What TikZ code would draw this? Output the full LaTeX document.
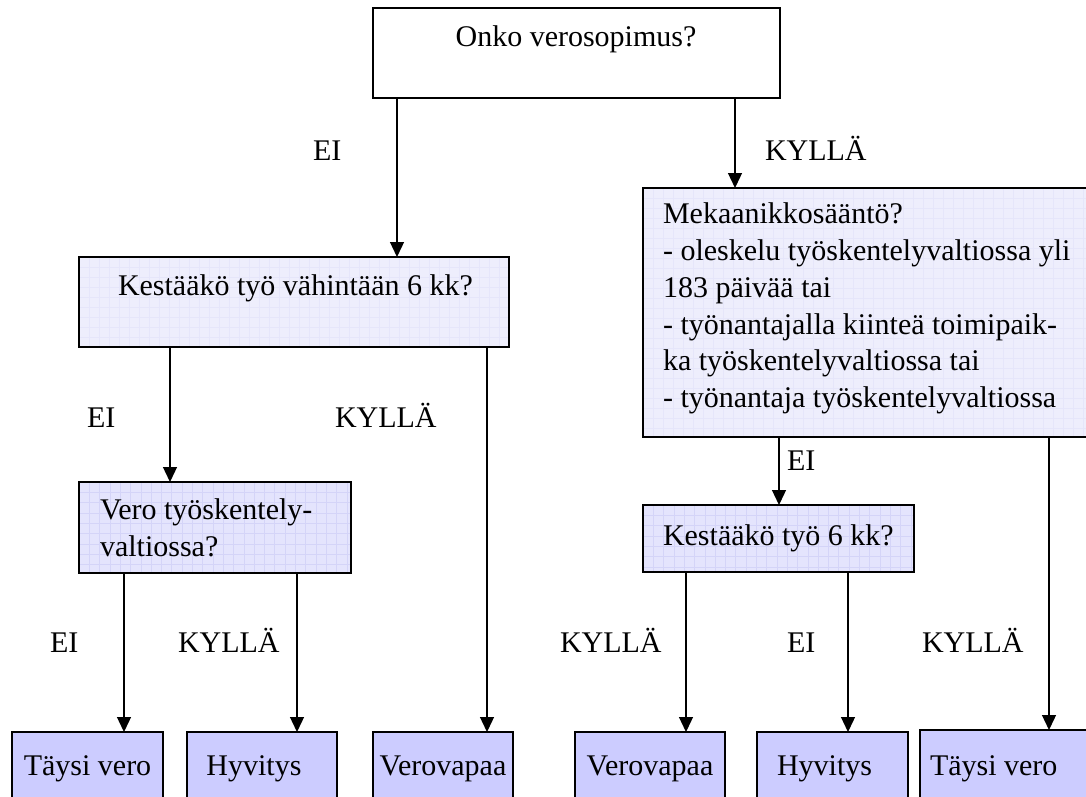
\documentclass[tikz,border=0pt]{standalone}
\usepackage{fontspec}
\setmainfont{Liberation Serif}
\usetikzlibrary{arrows.meta}
\definecolor{boxlight}{RGB}{238,238,252}
\definecolor{boxmid}{RGB}{228,228,253}
\definecolor{boxdark}{RGB}{204,204,255}
\definecolor{gridlight}{RGB}{230,230,250}
\definecolor{gridmid}{RGB}{212,212,248}
\begin{document}
\begin{tikzpicture}[x=1pt,y=-1pt,
  every node/.style={font=\fontsize{30}{36.8}\selectfont, inner sep=0pt, outer sep=0pt},
  box/.style={draw, line width=1.4pt, rectangle, anchor=north west},
  lightbox/.style={box, fill=boxlight},
  midbox/.style={box, fill=boxmid},
  darkbox/.style={box, fill=boxdark},
  txt/.style={anchor=base west},
  lab/.style={anchor=base west},
  arr/.style={line width=1.3pt, -{Triangle[length=15pt,width=14pt]}}]
\useasboundingbox (0,0) rectangle (1086,797);
\fill[white] (0,0) rectangle (1086,797);

% boxes
\node[box, fill=white, minimum width=407pt, minimum height=90pt] (q0) at (373,8) {};
\node[lightbox, minimum width=430pt, minimum height=90pt] (q1) at (79,257) {};
\node[lightbox, minimum width=450pt, minimum height=249pt] (q2) at (643,188) {};
\node[midbox, minimum width=272pt, minimum height=91pt] (q3) at (79,482) {};
\node[midbox, minimum width=271pt, minimum height=67pt] (q4) at (643,505) {};

% grid texture
\begin{scope}
  \clip (q1.south west) rectangle (q1.north east);
  \foreach \x in {79,89,...,509} \draw[gridlight, line width=.4pt] (\x,257) -- (\x,347);
  \foreach \y in {257,267,...,347} \draw[gridlight, line width=.4pt] (79,\y) -- (509,\y);
\end{scope}
\begin{scope}
  \clip (q2.south west) rectangle (q2.north east);
  \foreach \x in {643,653,...,1093} \draw[gridlight, line width=.4pt] (\x,188) -- (\x,437);
  \foreach \y in {188,198,...,437} \draw[gridlight, line width=.4pt] (643,\y) -- (1093,\y);
\end{scope}
\begin{scope}
  \clip (q3.south west) rectangle (q3.north east);
  \foreach \x in {79,89.3,...,351} \draw[gridmid, line width=.5pt] (\x,482) -- (\x,573);
  \foreach \y in {482,492.3,...,573} \draw[gridmid, line width=.5pt] (79,\y) -- (351,\y);
\end{scope}
\begin{scope}
  \clip (q4.south west) rectangle (q4.north east);
  \foreach \x in {643,653.3,...,914} \draw[gridmid, line width=.5pt] (\x,505) -- (\x,572);
  \foreach \y in {505,515.3,...,572} \draw[gridmid, line width=.5pt] (643,\y) -- (914,\y);
\end{scope}
\draw[line width=1.4pt] (q1.south west) rectangle (q1.north east);
\draw[line width=1.4pt] (q2.south west) rectangle (q2.north east);
\draw[line width=1.4pt] (q3.south west) rectangle (q3.north east);
\draw[line width=1.4pt] (q4.south west) rectangle (q4.north east);

\node[darkbox, minimum width=151pt, minimum height=80pt] (r1) at (12,732) {};
\node[darkbox, minimum width=150pt, minimum height=80pt] (r2) at (187,732) {};
\node[darkbox, minimum width=140pt, minimum height=80pt] (r3) at (373,732) {};
\node[darkbox, minimum width=150pt, minimum height=80pt] (r4) at (575,732) {};
\node[darkbox, minimum width=151pt, minimum height=80pt] (r5) at (757,732) {};
\node[darkbox, minimum width=180pt, minimum height=80pt] (r6) at (920,730) {};

% texts
\node[anchor=base] (t0) at (576,47) {Onko verosopimus?};
\node[txt] (t1) at (118,295) {Kestääkö työ vähintään 6 kk?};
\node[anchor=north west, align=left] (t2) at (663,198) {\strut Mekaanikkosääntö?\\- oleskelu työskentelyvaltiossa yli\\183 päivää tai\\- työnantajalla kiinteä toimipaik-\\ka työskentelyvaltiossa tai\\- työnantaja työskentelyvaltiossa};
\node[anchor=north west, align=left] (t3) at (100,494) {\strut Vero työskentely-\\valtiossa?};
\node[txt] (t4) at (663,545) {Kestääkö työ 6 kk?};
\path (r1.north) ++(0,43) node[anchor=base] (b1) {Täysi vero};
\path (r2.north) ++(-8,43) node[anchor=base] (b2) {Hyvitys};
\path (r3.north) ++(0,43) node[anchor=base] (b3) {Verovapaa};
\path (r4.north) ++(0,43) node[anchor=base] (b4) {Verovapaa};
\path (r5.north) ++(-8,43) node[anchor=base] (b5) {Hyvitys};
\node[txt] (b6) at (930,775) {Täysi vero};

% labels
\node[lab] (l1) at (313,160) {EI};
\node[lab] (l2) at (765,160) {KYLLÄ};
\node[lab] (l3) at (87,427) {EI};
\node[lab] (l4) at (335,427) {KYLLÄ};
\node[lab] (l5) at (787,470) {EI};
\node[lab] (l6) at (50,652) {EI};
\node[lab] (l7) at (178,652) {KYLLÄ};
\node[lab] (l8) at (560,652) {KYLLÄ};
\node[lab] (l9) at (787,652) {EI};
\node[lab] (l10) at (922,652) {KYLLÄ};

% connectors
\coordinate (xa) at (397,0);
\coordinate (xb) at (735,0);
\coordinate (xc) at (170,0);
\coordinate (xd) at (487,0);
\coordinate (xe) at (124,0);
\coordinate (xf) at (297,0);
\coordinate (xg) at (779,0);
\coordinate (xh) at (686,0);
\coordinate (xi) at (848,0);
\coordinate (xj) at (1049,0);
\draw[arr] (q0.south -| xa) -- (q1.north -| xa);
\draw[arr] (q0.south -| xb) -- (q2.north -| xb);
\draw[arr] (q1.south -| xc) -- (q3.north -| xc);
\draw[arr] (q1.south -| xd) -- (r3.north -| xd);
\draw[arr] (q3.south -| xe) -- (r1.north -| xe);
\draw[arr] (q3.south -| xf) -- (r2.north -| xf);
\draw[arr] (q2.south -| xg) -- (q4.north -| xg);
\draw[arr] (q4.south -| xh) -- (r4.north -| xh);
\draw[arr] (q4.south -| xi) -- (r5.north -| xi);
\draw[arr] (q2.south -| xj) -- (r6.north -| xj);
\end{tikzpicture}
\end{document}
